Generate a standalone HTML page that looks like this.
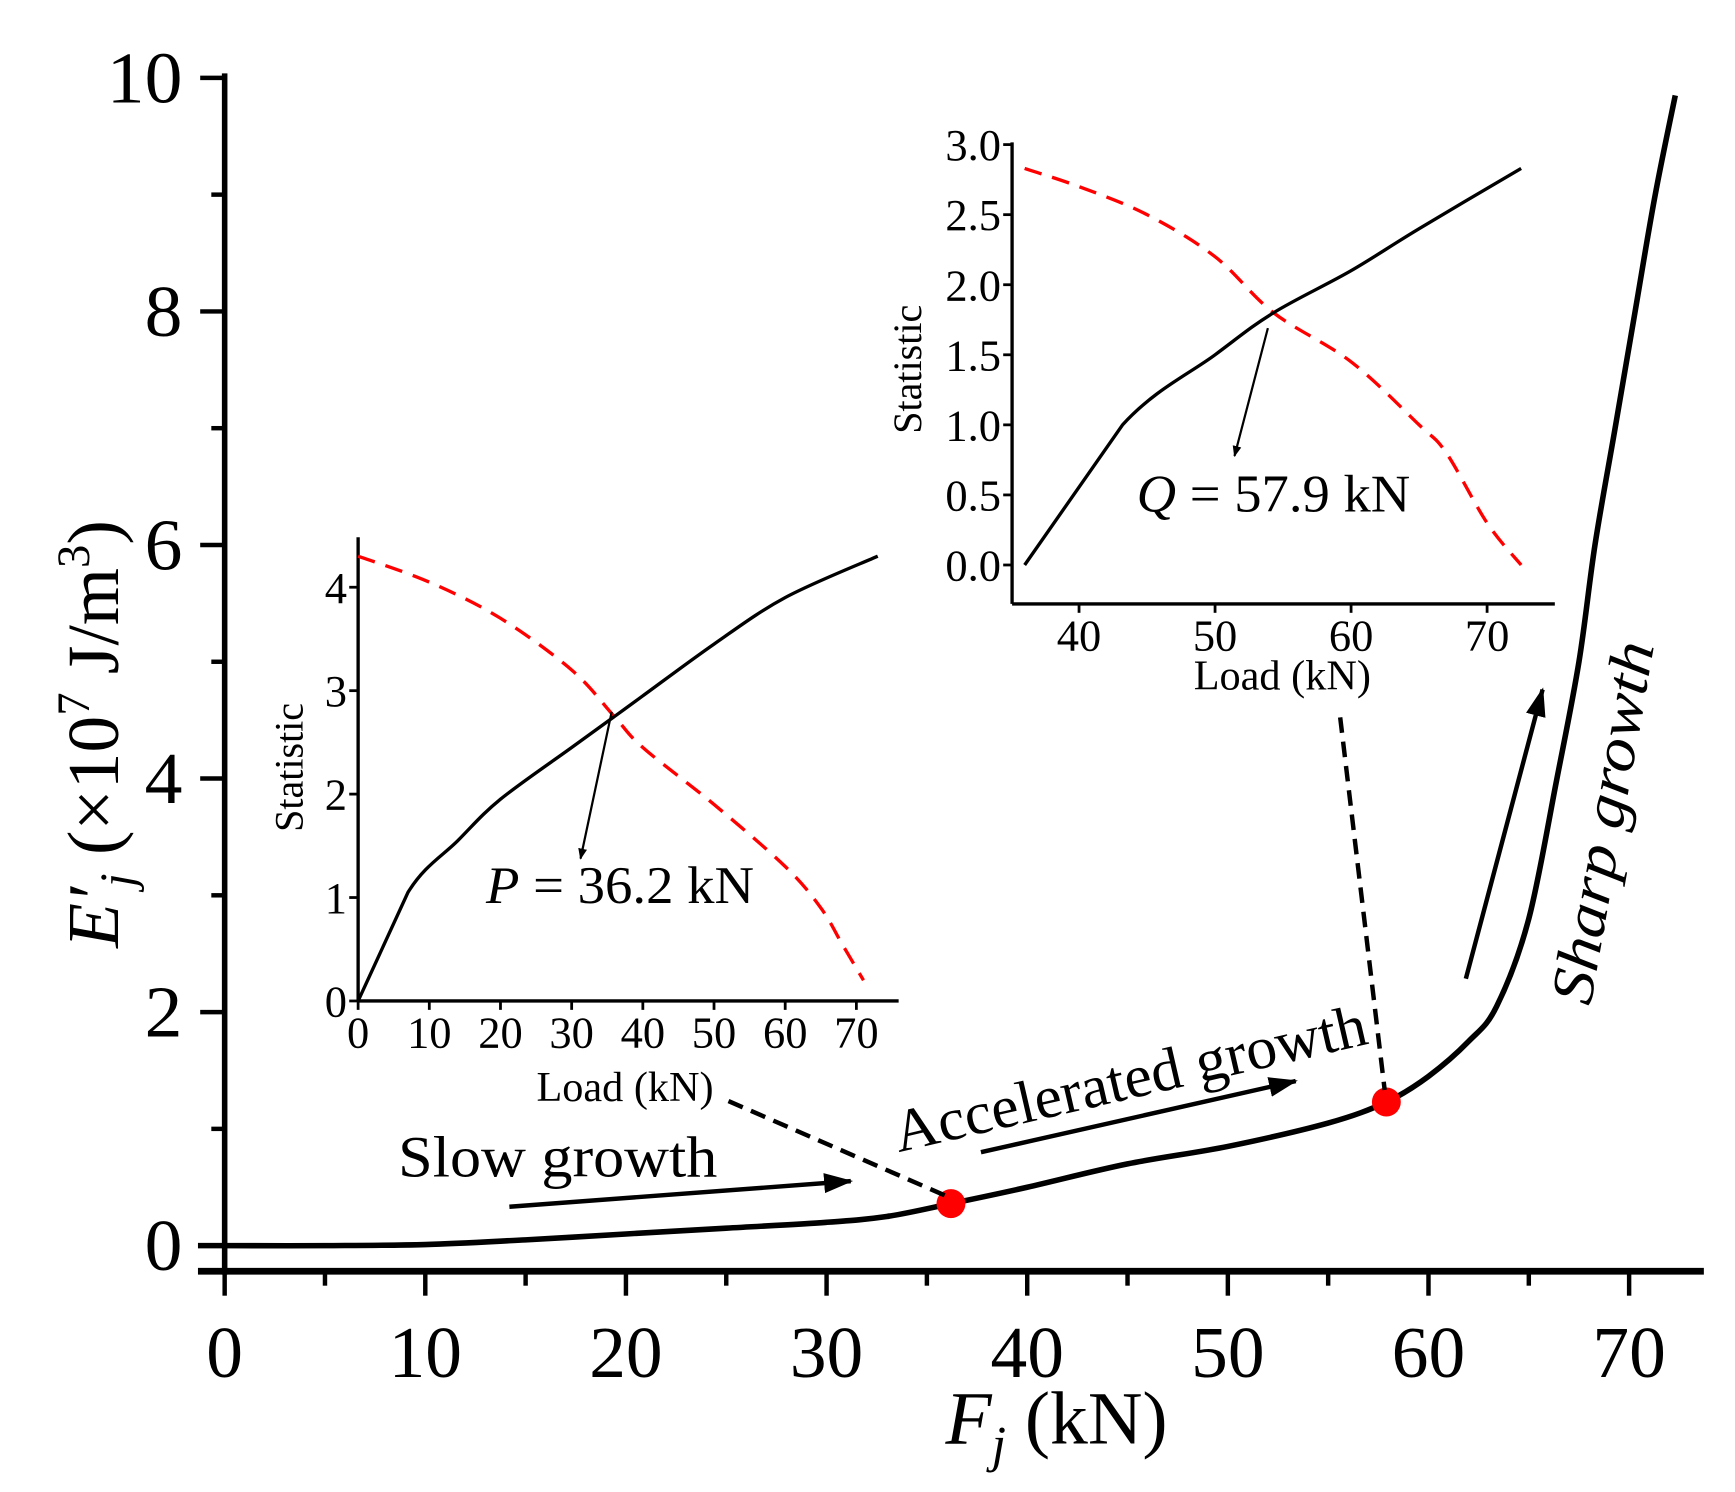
<!DOCTYPE html>
<html><head><meta charset="utf-8"><style>
html,body{margin:0;padding:0;background:#fff;}
svg{display:block;font-family:"Liberation Serif",serif;}
</style></head><body>
<svg id="chart" width="1735" height="1492" viewBox="0 0 1560 1341.5" xmlns="http://www.w3.org/2000/svg">
<defs>
<marker id="ah" markerWidth="10" markerHeight="8" refX="9" refY="4" orient="auto" markerUnits="userSpaceOnUse"><path d="M0,0 L10,4 L0,8 Z" fill="#000"/></marker>
<marker id="ahb" markerWidth="26" markerHeight="18" refX="24" refY="9" orient="auto" markerUnits="userSpaceOnUse"><path d="M0,0 L26,9 L0,18 Z" fill="#000"/></marker>
</defs>
<g id="main"></g>
<g id="inset1"></g>
<g id="inset2"></g>
<g id="annot">
<line x1="655" y1="990" x2="850" y2="1075" stroke="#000" stroke-width="4" stroke-dasharray="14,8"/>
<line x1="1205" y1="645" x2="1245" y2="980" stroke="#000" stroke-width="4" stroke-dasharray="14,8"/>
<text x="358" y="1058" font-size="52" textLength="287" lengthAdjust="spacingAndGlyphs">Slow growth</text>
<line x1="458" y1="1085" x2="765" y2="1062" stroke="#000" stroke-width="4" marker-end="url(#ahb)"/>
<text transform="translate(808,1036) rotate(-13)" font-size="54" textLength="435" lengthAdjust="spacingAndGlyphs">Accelerated growth</text>
<line x1="882" y1="1036" x2="1165" y2="972" stroke="#000" stroke-width="4" marker-end="url(#ahb)"/>
<text transform="translate(1430,905) rotate(-80)" font-size="54" font-style="italic" textLength="330" lengthAdjust="spacingAndGlyphs">Sharp growth</text>
<line x1="1318" y1="880" x2="1387" y2="620" stroke="#000" stroke-width="4" marker-end="url(#ahb)"/>
</g>
</svg>
<script>
// ---- main chart data ----
const mainX = [0,5,10,15,20,25,30,33,36.2,40,45,50,55,57.9,60,62,63.4,65,66.4,67.5,68.3,69.3,70.3,71.3,72.3];
const mainY = [0,0,0.01,0.05,0.1,0.15,0.2,0.25,0.36,0.5,0.7,0.85,1.05,1.23,1.45,1.75,2.05,2.8,4.0,5.0,6.0,7.0,8.0,9.0,9.85];
const mainXTicks = [0,10,20,30,40,50,60,70];
const mainYTicks = [0,2,4,6,8,10];
const pointsX = [36.2,57.9];
const pointsY = [0.36,1.23];
// ---- inset 1 data ----
const in1X = [0,7,14,20,30,36,40,50,60,73];
const in1Stat = [0,1.05,1.55,1.95,2.45,2.75,2.95,3.45,3.9,4.3];
const in1RedX = [0,10,20,30,36,40,50,60,65,68,71];
const in1Red = [4.3,4.05,3.7,3.2,2.75,2.45,1.9,1.3,0.9,0.55,0.2];
const in1XTicks = [0,10,20,30,40,50,60,70];
const in1YTicks = [0,1,2,3,4];
// ---- inset 2 data ----
const in2X = [36,43.2,50,54.3,60,65,72.5];
const in2Stat = [0,1.0,1.5,1.8,2.1,2.4,2.83];
const in2RedX = [36,40,45,50,54.3,60,65,67,70,72.5];
const in2Red = [2.83,2.7,2.5,2.2,1.8,1.45,1.0,0.8,0.3,0.0];
const in2XTicks = [40,50,60,70];
const in2YTicks = ["0.0","0.5","1.0","1.5","2.0","2.5","3.0"];

const NS="http://www.w3.org/2000/svg";
function mk(parent,tag,attrs,txt){const e=document.createElementNS(NS,tag);for(const k in attrs)e.setAttribute(k,attrs[k]);if(txt!==undefined)e.textContent=txt;parent.appendChild(e);return e;}
function path(xs,ys,sx,sy){return xs.map((x,i)=>(i?'L':'M')+sx(x).toFixed(1)+','+sy(ys[i]).toFixed(1)).join(' ');}
function smooth(xs,ys,sx,sy,skip){
  const p=xs.map((x,i)=>[sx(x),sy(ys[i])]);
  let d='M'+p[0][0].toFixed(1)+','+p[0][1].toFixed(1);
  for(let i=0;i<p.length-1;i++){
    if(skip&&skip.includes(i)){d+=' L'+p[i+1][0].toFixed(1)+','+p[i+1][1].toFixed(1);continue;}
    const p0=p[Math.max(0,i-1)],p1=p[i],p2=p[i+1],p3=p[Math.min(p.length-1,i+2)];
    const c1=[p1[0]+(p2[0]-p0[0])/6,p1[1]+(p2[1]-p0[1])/6];
    const c2=[p2[0]-(p3[0]-p1[0])/6,p2[1]-(p3[1]-p1[1])/6];
    d+=` C${c1[0].toFixed(1)},${c1[1].toFixed(1)} ${c2[0].toFixed(1)},${c2[1].toFixed(1)} ${p2[0].toFixed(1)},${p2[1].toFixed(1)}`;
  }
  return d;
}

// main
const gm=document.getElementById('main');
const mx=v=>202+v*18.04, my=v=>1120-v*105;
let e;
e=mk(gm,'line',{x1:202,y1:66,x2:202,y2:1146,stroke:'#000','stroke-width':5});


e=mk(gm,'line',{x1:178,y1:1143,x2:1532,y2:1143,stroke:'#000','stroke-width':6});


for(let v=0;v<=73;v+=5){const big=v%10===0;e=mk(gm,'line',{x1:mx(v),y1:1143,x2:mx(v),y2:big?1165:1156,stroke:'#000','stroke-width':4});

}
mainXTicks.forEach(v=>{const s=String(v);e=mk(gm,'text',{x:mx(v),y:1238,'font-size':66,'text-anchor':'middle',textLength:s.length*33,lengthAdjust:'spacingAndGlyphs'},s);

});
for(let v=0;v<=10;v++){const big=v%2===0;e=mk(gm,'line',{x1:big?180:190,y1:my(v),x2:202,y2:my(v),stroke:'#000','stroke-width':4});

}
mainYTicks.forEach(v=>{const s=String(v);e=mk(gm,'text',{x:164,y:my(v)+22,'font-size':66,'text-anchor':'end',textLength:s.length*34,lengthAdjust:'spacingAndGlyphs'},s);

});
e=mk(gm,'line',{x1:178,y1:1120,x2:202,y2:1120,stroke:'#000','stroke-width':5});


e=mk(gm,'path',{d:smooth(mainX,mainY,mx,my),fill:'none',stroke:'#000','stroke-width':5,'stroke-linejoin':'round'});


pointsX.forEach((x,i)=>{e=mk(gm,'circle',{cx:mx(x),cy:my(pointsY[i]),r:13,fill:'#f00'});

});
e=mk(gm,'text',{transform:'translate(106,660) rotate(-90)','font-size':66,'text-anchor':'middle'});


e.innerHTML='<tspan font-style="italic">E′</tspan><tspan font-style="italic" font-size="44" dy="14">j</tspan><tspan dy="-14"> (×10</tspan><tspan font-size="42" dy="-26">7</tspan><tspan dy="26"> J/m</tspan><tspan font-size="42" dy="-26">3</tspan><tspan dy="26">)</tspan>';
e=mk(gm,'text',{x:950,y:1298,'font-size':68,'text-anchor':'middle'});


e.innerHTML='<tspan font-style="italic">F</tspan><tspan font-style="italic" font-size="46" dy="16">j</tspan><tspan dy="-16"> (kN)</tspan>';

function inset(g,o){
  const sx=v=>o.x0+v*o.kx, sy=v=>o.y0-v*o.ky;
  e=mk(g,'line',{x1:o.ax,y1:o.top,x2:o.ax,y2:o.ay,stroke:'#000','stroke-width':3});
  
  
  e=mk(g,'line',{x1:o.ax,y1:o.ay,x2:o.right,y2:o.ay,stroke:'#000','stroke-width':3});
  
  
  o.xt.forEach(v=>{e=mk(g,'line',{x1:sx(v),y1:o.ay,x2:sx(v),y2:o.ay+8,stroke:'#000','stroke-width':2.5});
  
  
  e=mk(g,'text',{x:sx(v),y:o.ay+42,'font-size':40,'text-anchor':'middle'},String(v));
  
  });
  o.yt.forEach(v=>{e=mk(g,'line',{x1:o.ax-8,y1:sy(+v),x2:o.ax,y2:sy(+v),stroke:'#000','stroke-width':2.5});
  
  
  e=mk(g,'text',{x:o.ax-10,y:sy(+v)+14,'font-size':40,'text-anchor':'end'},String(v));
  
  });
  e=mk(g,'path',{d:smooth(o.rx,o.ry,sx,sy),fill:'none',stroke:'#f00','stroke-width':3,'stroke-dasharray':'16,10'});
  
  
  e=mk(g,'path',{d:smooth(o.bx,o.by,sx,sy,[0]),fill:'none',stroke:'#000','stroke-width':3});
  
  
  e=mk(g,'text',{transform:`translate(${o.stx},${o.sty}) rotate(-90)`,'font-size':36,'text-anchor':'middle'},'Statistic');
  
  
  e=mk(g,'text',{x:o.lx,y:o.ly,'font-size':38,'text-anchor':'middle'},'Load (kN)');
  
  
  e=mk(g,'line',{x1:o.a[0],y1:o.a[1],x2:o.a[2],y2:o.a[3],stroke:'#000','stroke-width':2,'marker-end':'url(#ah)'});
  
  
  e=mk(g,'text',{x:o.tx,y:o.ty,'font-size':48,textLength:o.tw,lengthAdjust:'spacingAndGlyphs'});
  
  
  e.innerHTML=`<tspan font-style="italic">${o.lab}</tspan> = ${o.val} kN`;
}
inset(document.getElementById('inset1'),{x0:322,kx:6.4,y0:900,ky:93,ax:322,ay:900,top:483,right:808,
  xt:in1XTicks,yt:in1YTicks,bx:in1X,by:in1Stat,rx:in1RedX,ry:in1Red,stx:272,sty:690,lx:562,ly:990,
  a:[550,640,522,772],tx:437,ty:812,tw:241,lab:'P',val:'36.2'});
inset(document.getElementById('inset2'),{x0:481,kx:12.23,y0:508,ky:126,ax:910,ay:543,top:128,right:1398,
  xt:in2XTicks,yt:in2YTicks,bx:in2X,by:in2Stat,rx:in2RedX,ry:in2Red,stx:828,sty:332,lx:1153,ly:620,
  a:[1140,295,1110,410],tx:1022,ty:460,tw:246,lab:'Q',val:'57.9'});
</script>
</body></html>
